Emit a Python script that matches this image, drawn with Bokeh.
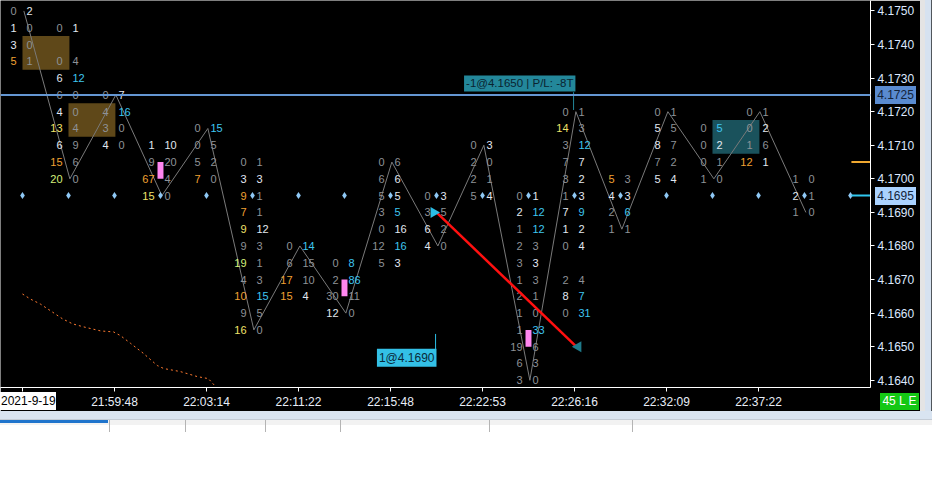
import math
from bokeh.plotting import figure
from bokeh.models import Range1d, FixedTicker, PrintfTickFormatter, Label, Span, ColumnDataSource, Div
from bokeh.layouts import column, row
from bokeh.core.properties import value
from bokeh.embed import file_html
from bokeh.resources import INLINE

TICK = 0.0005

# ---------------- data ----------------
bar_top = [4.1750, 4.1745, 4.1725, 4.1710, 4.1715, 4.1705, 4.1680, 4.1675, 4.1705, 4.1695,
           4.1710, 4.1695, 4.1720, 4.1700, 4.1720, 4.1715, 4.1720, 4.1700, None]

bid_vol = [
    [0, 1, 3, 5],
    [0, None, 0, 6, 6, 4, 13, 6, 15, 20],
    [0, 4, 3, 4],
    [1, 9, 67, 15],
    [0, 0, 5, 7],
    [0, 3, 9, 7, 9, 9, 19, 4, 10, 9, 16],
    [0, 6, 17, 15],
    [0, 2, 30, 12],
    [0, 6, 5, 3, 0, 12, 5],
    [0, 3, 6, 4],
    [0, 2, 2, 5],
    [0, 2, 1, 2, 3, 1, 2, 1, 1, 19, 6, 3],
    [0, 14, 3, 7, 3, 1, 7, 1, 0, None, 2, 8, 0],
    [5, 4, 2, 1],
    [0, 5, 8, 7, 5],
    [0, 0, 0, 1],
    [0, 0, 1, 12],
    [1, 2, 1],
    [],
]
ask_vol = [
    [2, 0, 0, 1],
    [1, None, 4, 12, 0, 0, 4, 9, 6, 0],
    [7, 16, 0, 0],
    [10, 20, 4, 0],
    [15, 5, 2, 0],
    [1, 3, 1, 1, 12, 3, 1, 3, 15, 5, 0],
    [14, 15, 10, 4],
    [8, 86, 11, 0],
    [6, 6, 5, 5, 16, 16, 3],
    [3, 5, 2, 0],
    [3, 0, 1, 4],
    [1, 12, 12, 3, 3, 3, 1, 0, 33, 6, 3, 0],
    [1, 3, 12, 7, 2, 3, 9, 2, 4, None, 4, 7, 31],
    [3, 3, 6, 1],
    [1, 5, 7, 2, 4],
    [5, 2, 1, 0],
    [1, 2, 6, 1],
    [0, 1, 0],
    [],
]
# tone class of each printed volume: g=plain, w=bright, c=ask-heavy, o/y/l=bid-heavy
bid_tone = ["gwwo", "g-gwgwywol", "gggw", "wgoy", "gggo", "gwooyglgogy", "ggoo", "gggw",
            "ggggggg", "ggww", "gggg", "gwgggggggggg", "gyggggwwg-gwg", "owgg", "gwwgw",
            "gggg", "gggo", "gwg", ""]
ask_tone = ["wggg", "w-gcgggggg", "wcgg", "wggg", "cggg", "gwggwgggcgg", "cggw", "ccgg",
            "gwwcwcw", "wggg", "wggw", "wccgwgggcggg", "ggcwwwcww-gcc", "gwcg", "ggggw",
            "cwgg", "gwgw", "ggg", ""]

time_tick_bars = [0, 2, 4, 6, 8, 10, 12, 14, 16]
time_labels = ["2021-9-19", "21:59:48", "22:03:14", "22:11:22", "22:15:48",
               "22:22:53", "22:26:16", "22:32:09", "22:37:22"]
price_ticks = [4.1640, 4.1650, 4.1660, 4.1670, 4.1680, 4.1690, 4.1700,
               4.1710, 4.1720, 4.1730, 4.1740, 4.1750]

marker_price = 4.1695          # diamond row
last_price = 4.1725            # horizontal price line
alert_prices = [4.1705, 4.1695]

pink_bars = [3, 7, 11]
pink_top = [4.1705, 4.1670, 4.1655]

zone_bars = [0, 1, 15]
zone_top = [4.1740, 4.1720, 4.1715]
zone_kind = ["sell", "sell", "buy"]

entry_bar, entry_price = 9, 4.1690
exit_bar, exit_price = 12, 4.1650
entry_text = "1@4.1690"
exit_text = "-1@4.1650 | P/L: -8T"
status_text = "45 L E"

delta_x = [0.0, 0.17, 0.39, 0.61, 0.87, 1.09, 1.33, 1.70, 1.98, 2.13, 2.35, 2.63,
           2.93, 3.07, 3.43, 3.80, 4.04, 4.20, 4.30]
delta_y = [4.16657, 4.16642, 4.16627, 4.16607, 4.16583, 4.16568, 4.16559, 4.16547,
           4.16544, 4.16533, 4.16510, 4.16480, 4.16444, 4.16435, 4.16426, 4.16411,
           4.16405, 4.16381, 4.16361]

# ---------------- styling ----------------
TONE = {"g": "#8e9297", "w": "#e2e8f0", "c": "#3ec6f0", "o": "#f0a232",
        "y": "#f0e26a", "l": "#d4f07a"}
ZONE = {"sell": "#5f4819", "buy": "#1a525c"}
FONT = value("Liberation Sans")
N = len(bar_top)

FIG_W, FIG_H = 920, 411
BORDER_R, BORDER_B = 50, 22
FRAME_H = FIG_H - BORDER_B
X0, X1 = -0.478, 18.435
Y0, Y1 = 4.163785, 4.175311

p = figure(width=FIG_W, height=FIG_H, x_range=Range1d(X0, X1), y_range=Range1d(Y0, Y1),
           output_backend="svg", toolbar_location=None, y_axis_location="right",
           background_fill_color="black", border_fill_color="black",
           min_border_left=0, min_border_top=0, min_border_right=BORDER_R,
           min_border_bottom=BORDER_B)
p.outline_line_color = None
p.xgrid.visible = False
p.ygrid.visible = False

# axes
p.yaxis.ticker = FixedTicker(ticks=price_ticks)
p.yaxis.formatter = PrintfTickFormatter(format="%.4f")
p.xaxis.ticker = FixedTicker(ticks=time_tick_bars)
p.xaxis.major_label_overrides = {b: ("" if k == 0 else lbl)
                                 for k, (b, lbl) in enumerate(zip(time_tick_bars, time_labels))}
for ax in (p.xaxis[0], p.yaxis[0]):
    ax.axis_line_color = "white"
    ax.major_tick_line_color = "white"
    ax.minor_tick_line_color = None
    ax.major_tick_in = 0
    ax.major_tick_out = 4
    ax.major_label_text_font = "Liberation Sans"
p.yaxis.major_label_text_font_size = "12px"
p.yaxis.major_label_text_color = "#dce8ff"
p.yaxis.major_label_standoff = 3
p.xaxis.major_label_text_font_size = "12px"
p.xaxis.major_label_text_color = "#e8eef8"
p.xaxis.major_label_standoff = 3

# imbalance zones
p.quad(left=zone_bars, right=[b + 1.02 for b in zone_bars],
       top=[t + TICK / 2 for t in zone_top], bottom=[t - 1.5 * TICK for t in zone_top],
       fill_color=[ZONE[k] for k in zone_kind], line_color=None)

# price line
p.add_layout(Span(location=last_price, dimension="width", line_color="#6496d2", line_width=2))

# orange dotted indicator
p.line(delta_x, delta_y, line_color="#ff7a30", line_width=1, line_dash="2 3")

# zigzag swing line
zx, zy = [], []
for i, top in enumerate(bar_top):
    if top is None:
        continue
    low = top - (len(bid_vol[i]) - 1) * TICK
    zx.append(i + 0.03)
    zy.append(top if i % 2 == 0 else low)
p.line(zx, zy, line_color="#7a7a7a", line_width=1)

# volumes
bx, by, bt, bc = [], [], [], []
ax_, ay, at, ac = [], [], [], []
for i, top in enumerate(bar_top):
    if top is None:
        continue
    for j, (b, a) in enumerate(zip(bid_vol[i], ask_vol[i])):
        price = top - j * TICK
        if b is not None:
            bx.append(i - 0.13); by.append(price); bt.append(str(b)); bc.append(TONE[bid_tone[i][j]])
        if a is not None:
            ax_.append(i + 0.085); ay.append(price); at.append(str(a)); ac.append(TONE[ask_tone[i][j]])
p.text(x="x", y="y", text="t", text_color="c",
       source=ColumnDataSource(dict(x=bx, y=by, t=bt, c=bc)),
       text_align="right", text_baseline="middle", text_font=FONT, text_font_size=value("11px"))
p.text(x="x", y="y", text="t", text_color="c",
       source=ColumnDataSource(dict(x=ax_, y=ay, t=at, c=ac)),
       text_align="left", text_baseline="middle", text_font=FONT, text_font_size=value("11px"))

# pink volume marks
p.quad(left=[b - 0.065 for b in pink_bars], right=[b + 0.065 for b in pink_bars],
       top=pink_top, bottom=[t - TICK for t in pink_top], fill_color="#ff86f0", line_color=None)

# diamonds
p.scatter(x=list(range(N)), y=[marker_price] * N, marker="diamond", size=7,
          fill_color="#8fc8f5", line_color=None)

# trade
p.line([entry_bar, exit_bar + 0.04], [entry_price, exit_price], line_color="#ff1010", line_width=2.5)
p.scatter([entry_bar - 0.06], [entry_price], marker="triangle", angle=-math.pi / 2, size=11,
          fill_color="#2bbde6", line_color=None)
p.scatter([exit_bar + 0.08], [exit_price], marker="triangle", angle=math.pi / 2, size=11,
          fill_color="#1f7a8a", line_color=None)
p.segment(x0=[entry_bar - 0.02], x1=[entry_bar - 0.02], y0=[4.16538], y1=[4.16492],
          line_color="#2bbde6", line_width=1)
p.segment(x0=[exit_bar - 0.02], x1=[exit_bar - 0.02], y0=[4.17258], y1=[4.17205],
          line_color="#23879a", line_width=1)
p.add_layout(Label(x=entry_bar, y=4.16467, text=entry_text, text_align="right",
                   text_baseline="middle", text_font="Liberation Sans", text_font_size="12px",
                   text_color="#0a2a3a", background_fill_color="#33c0e6", padding=2))
p.add_layout(Label(x=exit_bar + 0.02, y=4.17284, text=exit_text, text_align="right",
                   text_baseline="middle", text_font="Liberation Sans", text_font_size="11.5px",
                   text_color="#0a2430", background_fill_color="#23879a", padding=2))

# right-edge alert markers
p.segment(x0=[18.02] * 2, x1=[18.45] * 2, y0=alert_prices, y1=alert_prices,
          line_color=["#f0a830", "#30c8f0"], line_width=2)


# ---------------- chrome around the chart (HTML overlays) ----------------
def frame_y(price):
    """pixel row of a price inside the plot frame (same linear scale as the y range)"""
    return (Y1 - price) / (Y1 - Y0) * FRAME_H


def price_tag(price, bg):
    top = round(frame_y(price) - 9)
    return (f'<div style="position:absolute;left:5px;top:{top}px;width:41px;height:18px;'
            f'background:{bg};color:#14243a;font-family:\'Liberation Sans\';font-size:12px;'
            f'line-height:18px;text-align:center">{price:.4f}</div>')


right_html = ('<div style="position:relative;width:62px;height:411px">'
              + price_tag(last_price, "#5a8bd0") + price_tag(marker_price, "#aad2ff")
              + '<div style="position:absolute;left:50px;top:0;width:12px;height:411px;'
                'background:linear-gradient(to right,#e4e4e4 0,#e4e4e4 5px,#d6e2f0 5px,'
                '#d6e2f0 11px,#50565c 11px)"></div></div>')
right = Div(width=62, height=FIG_H, text=right_html, margin=(0, 0, 0, -BORDER_R),
            styles={"position": "relative", "z-index": "10"})

seps = "".join(
    f'<div style="position:absolute;left:{x}px;top:31px;width:1px;height:12px;background:#b4b4b4"></div>'
    for x in (109, 185, 265, 340, 489, 632))
bottom_html = (
    '<div style="position:relative;width:932px;height:95px">'
    '<div style="position:absolute;left:0;top:3px;width:56px;height:18px;background:#ffffff">'
    '<span style="position:absolute;left:1px;top:0;line-height:18px;font-family:\'Liberation Sans\';'
    f'font-size:12px;color:#000;white-space:nowrap">{time_labels[0]}</span></div>'
    '<div style="position:absolute;left:880px;top:4px;width:39px;height:17px;background:#14c814;'
    'color:#ffffff;font-family:\'Liberation Sans\';font-size:12px;line-height:17px;text-align:center">'
    f'{status_text}</div>'
    '<div style="position:absolute;left:0;top:22px;width:932px;height:73px;background:#ffffff"></div>'
    '<div style="position:absolute;left:0;top:22px;width:932px;height:8px;background:#d9e4f1"></div>'
    '<div style="position:absolute;left:0;top:30px;width:932px;height:1px;background:#c4ccd6"></div>'
    '<div style="position:absolute;left:0;top:31px;width:932px;height:5px;background:#f2f2f2"></div>'
    '<div style="position:absolute;left:0;top:31px;width:108px;height:3px;background:#1f74cc"></div>'
    + seps + '</div>')
bottom = Div(width=932, height=95, text=bottom_html, margin=(-BORDER_B, 0, 0, 0),
             styles={"position": "relative", "z-index": "10"})

layout = column(row(p, right), bottom)

open("out.html", "w").write(file_html(layout, INLINE))
